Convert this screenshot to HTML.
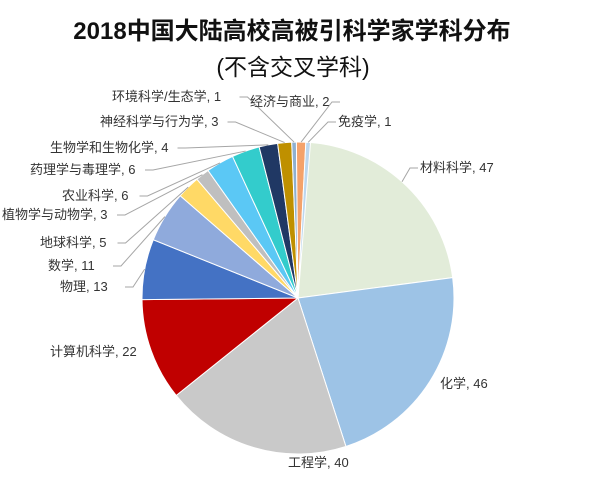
<!DOCTYPE html>
<html><head><meta charset="utf-8"><style>
body{margin:0;background:#fff;width:600px;height:472px;overflow:hidden;font-family:"Liberation Sans","Noto Sans CJK SC",sans-serif}
</style></head><body>
<svg id="s" width="600" height="472" xmlns="http://www.w3.org/2000/svg" font-family="Liberation Sans, Noto Sans CJK SC, sans-serif">
<text x="292" y="39" text-anchor="middle" font-size="24" font-weight="bold" fill="#111">2018中国大陆高校高被引科学家学科分布</text>
<text x="293" y="75" text-anchor="middle" font-size="23" fill="#111">(不含交叉学科)</text>
<g id="p"></g><g id="l"></g>
</svg>
<script>
var d=[[47,"#e2ecd9","材料科学, 47",420,172],[46,"#9dc3e6","化学, 46",440,388],[40,"#c9c9c9","工程学, 40",288,467],[22,"#c00000","计算机科学, 22",50,356],[13,"#4472c4","物理, 13",60,291],[11,"#8faadc","数学, 11",48,270],[5,"#ffd966","地球科学, 5",40,247],[3,"#bfbfbf","植物学与动物学, 3",2,219],[6,"#5bc8f5","农业科学, 6",62,200],[6,"#33cccc","药理学与毒理学, 6",30,174],[4,"#203864","生物学和生物化学, 4",50,152],[3,"#bf9000","神经科学与行为学, 3",100,126],[1,"#8fb0d0","环境科学/生态学, 1",112,101],[2,"#f4a26b","经济与商业, 2",250,106],[1,"#bdd7ee","免疫学, 1",338,126]];
var cx=298,cy=298,r=156,T=208,a=0.02,P="",L="";
d.forEach(function(e,i){var a0=a,a1=a+e[0]/T*2*Math.PI;a=a1;
var x0=cx+r*Math.sin(a0),y0=cy-r*Math.cos(a0),x1=cx+r*Math.sin(a1),y1=cy-r*Math.cos(a1);
P+='<path d="M'+cx+','+cy+'L'+x0+','+y0+'A'+r+','+r+' 0 '+((a1-a0)>Math.PI?1:0)+' 1 '+x1+','+y1+'Z" fill="'+e[1]+'" stroke="#fff" stroke-width="1"/>';
var m=(a0+a1)/2,mx=cx+r*Math.sin(m),my=cy-r*Math.cos(m);
var lw=e[2].length*12.5-10;
var lx=e[3]<cx?e[3]+lw:e[3]-2, ly=e[4]-4;
if(i>=4||i==0)L+='<polyline points="'+lx+','+ly+' '+(lx+(mx>lx?8:-8))+','+ly+' '+mx+','+my+'" fill="none" stroke="#a6a6a6" stroke-width="1"/>';
L+='<text x="'+e[3]+'" y="'+e[4]+'" font-size="13" fill="#333">'+e[2]+'</text>';});
document.getElementById("p").innerHTML=P;document.getElementById("l").innerHTML=L;
</script>
</body></html>
